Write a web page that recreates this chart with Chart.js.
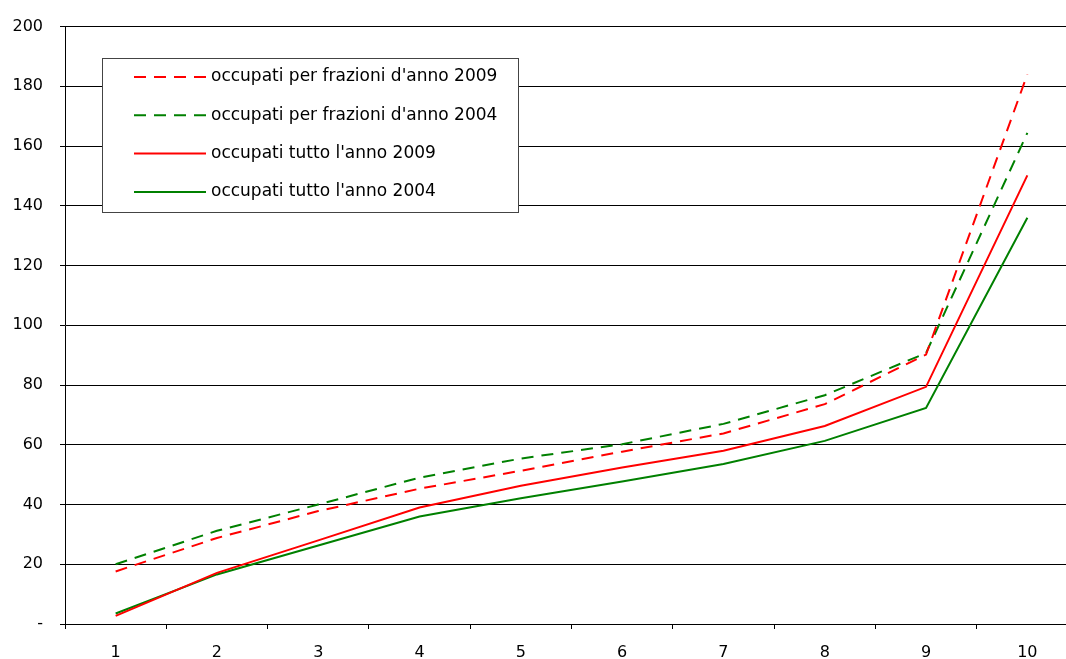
<!DOCTYPE html>
<html>
<head>
<meta charset="utf-8">
<script src="https://cdn.jsdelivr.net/npm/chart.js@4"></script>
<style>
  body { margin: 0; overflow: hidden; background: #fff; }
  #wrap { width: 1078px; height: 659px; }
</style>
</head>
<body>
<div id="wrap"><canvas id="chart" width="1078" height="659"></canvas></div>
<script>
const labels = ['1', '2', '3', '4', '5', '6', '7', '8', '9', '10'];
const frazioni2009 = [17.6, 28.8, 37.8, 45.3, 51.3, 57.7, 63.8, 73.6, 90.2, 184];
const frazioni2004 = [20, 31.2, 40, 49, 55.4, 60.2, 67, 76.6, 90.7, 164.4];
const tutto2009 = [2.7, 17.1, 28, 39, 46.3, 52.4, 58, 66.3, 79.4, 150.2];
const tutto2004 = [3.5, 16.6, 26.3, 36, 42.1, 47.7, 53.6, 61.3, 72.3, 136];
const yTicks = [0, 20, 40, 60, 80, 100, 120, 140, 160, 180, 200];

const FONT = 'DejaVu Sans';

// legend drawn as a framed box inside the plot, like the original
const boxLegend = {
  id: 'boxLegend',
  afterDraw (chart) {
    const ctx = chart.ctx;
    ctx.save();
    ctx.fillStyle = '#fff';
    ctx.fillRect(102.5, 58.5, 416, 154);
    ctx.strokeStyle = '#444';
    ctx.lineWidth = 1;
    ctx.strokeRect(102.5, 58.5, 416, 154);
    ctx.font = '17px ' + FONT;
    ctx.textBaseline = 'middle';
    chart.data.datasets.forEach((ds, i) => {
      const y = 77 + i * 38.3;
      ctx.beginPath();
      ctx.strokeStyle = ds.borderColor;
      ctx.lineWidth = 2;
      ctx.setLineDash(ds.borderDash || []);
      ctx.moveTo(134, y);
      ctx.lineTo(206, y);
      ctx.stroke();
      ctx.setLineDash([]);
      ctx.fillStyle = '#000';
      ctx.fillText(ds.label, 211, y);
    });
    ctx.restore();
  }
};

new Chart(document.getElementById('chart'), {
  type: 'line',
  data: {
    labels: labels,
    datasets: [
      { label: "occupati per frazioni d'anno 2009", data: frazioni2009, borderColor: '#ff0000', borderDash: [12, 8] },
      { label: "occupati per frazioni d'anno 2004", data: frazioni2004, borderColor: '#008000', borderDash: [12, 8] },
      { label: "occupati tutto l'anno 2009", data: tutto2009, borderColor: '#ff0000' },
      { label: "occupati tutto l'anno 2004", data: tutto2004, borderColor: '#008000' }
    ]
  },
  options: {
    responsive: false,
    animation: false,
    layout: { padding: { top: 23, right: 0, left: 0, bottom: 0 } },
    elements: {
      point: { radius: 0 },
      line: { borderWidth: 2, tension: 0 }
    },
    scales: {
      x: {
        offset: true,
        grid: { offset: true, drawOnChartArea: false, tickLength: 5, color: '#000' },
        border: { color: '#000' },
        ticks: { color: '#000', padding: 14, font: { family: FONT, size: 16 } },
        afterFit: (s) => { s.height = 35; }
      },
      y: {
        min: 0,
        max: 200,
        afterBuildTicks: (s) => { s.ticks = yTicks.map(v => ({ value: v })); },
        grid: { color: '#000', tickLength: 5 },
        border: { color: '#000' },
        ticks: {
          color: '#000',
          padding: 17,
          font: { family: FONT, size: 16 },
          callback: (v) => v === 0 ? '-' : v
        },
        afterFit: (s) => { s.width = 65; }
      }
    },
    plugins: {
      legend: { display: false },
      tooltip: { enabled: false }
    }
  },
  plugins: [boxLegend]
});
</script>
</body>
</html>
